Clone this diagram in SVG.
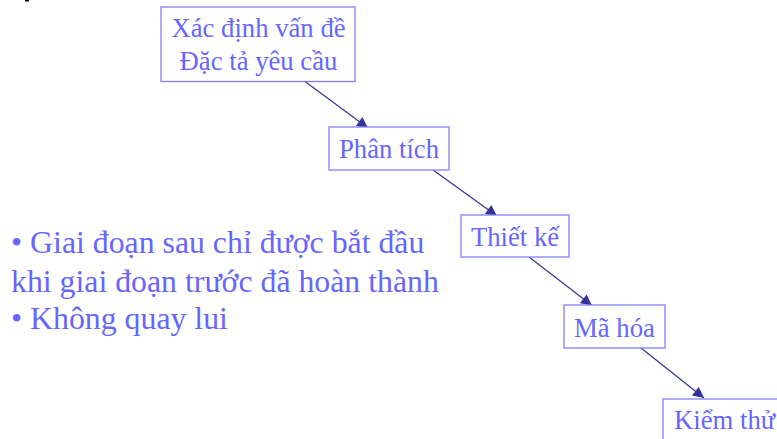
<svg xmlns="http://www.w3.org/2000/svg" width="777" height="439" viewBox="0 0 777 439">
<style>
.box{fill:#fff;stroke:#8080ff;stroke-width:1.3}
.t{font-family:"Liberation Serif","Times New Roman",serif;fill:#6666ff;font-size:26.7px;text-anchor:middle}
.b{font-family:"Liberation Serif","Times New Roman",serif;fill:#6666ff;font-size:31.8px}
.c{stroke:#333399;stroke-width:1.2;fill:none;marker-end:url(#ah)}
</style>
<defs>
<marker id="ah" viewBox="0 0 10 10" refX="10" refY="5" markerWidth="12" markerHeight="11" markerUnits="userSpaceOnUse" orient="auto">
<path d="M0,0 L10,5 L0,10 z" fill="#333399"/>
</marker>
</defs>
<rect x="25" y="0" width="4" height="1.5" fill="#000"/>
<g id="connectors">
<line class="c" x1="305" y1="81.5" x2="368" y2="128"/>
<line class="c" x1="433" y1="170" x2="497" y2="216"/>
<line class="c" x1="529" y1="257" x2="592" y2="305.5"/>
<line class="c" x1="641" y1="348" x2="704" y2="398"/>
</g>
<g id="n1">
<rect class="box" x="161" y="7" width="194" height="74.5"/>
<text class="t" x="258.5" y="37">Xác định vấn đề</text>
<text class="t" x="258.5" y="70">Đặc tả yêu cầu</text>
</g>
<g id="n2">
<rect class="box" x="329" y="127" width="120" height="43"/>
<text class="t" x="389" y="158">Phân tích</text>
</g>
<g id="n3">
<rect class="box" x="461" y="215" width="108" height="42"/>
<text class="t" x="515" y="246">Thiết kế</text>
</g>
<g id="n4">
<rect class="box" x="564" y="305" width="101" height="43"/>
<text class="t" x="614.5" y="337">Mã hóa</text>
</g>
<g id="n5">
<rect class="box" x="663" y="399" width="130" height="60"/>
<text class="t" x="674" y="429" style="text-anchor:start">Kiểm thử</text>
</g>
<g id="notes">
<text class="b" x="11" y="253">• Giai đoạn sau chỉ được bắt đầu</text>
<text class="b" x="11" y="292">khi giai đoạn trước đã hoàn thành</text>
<text class="b" x="11" y="329">• Không quay lui</text>
</g>
</svg>
